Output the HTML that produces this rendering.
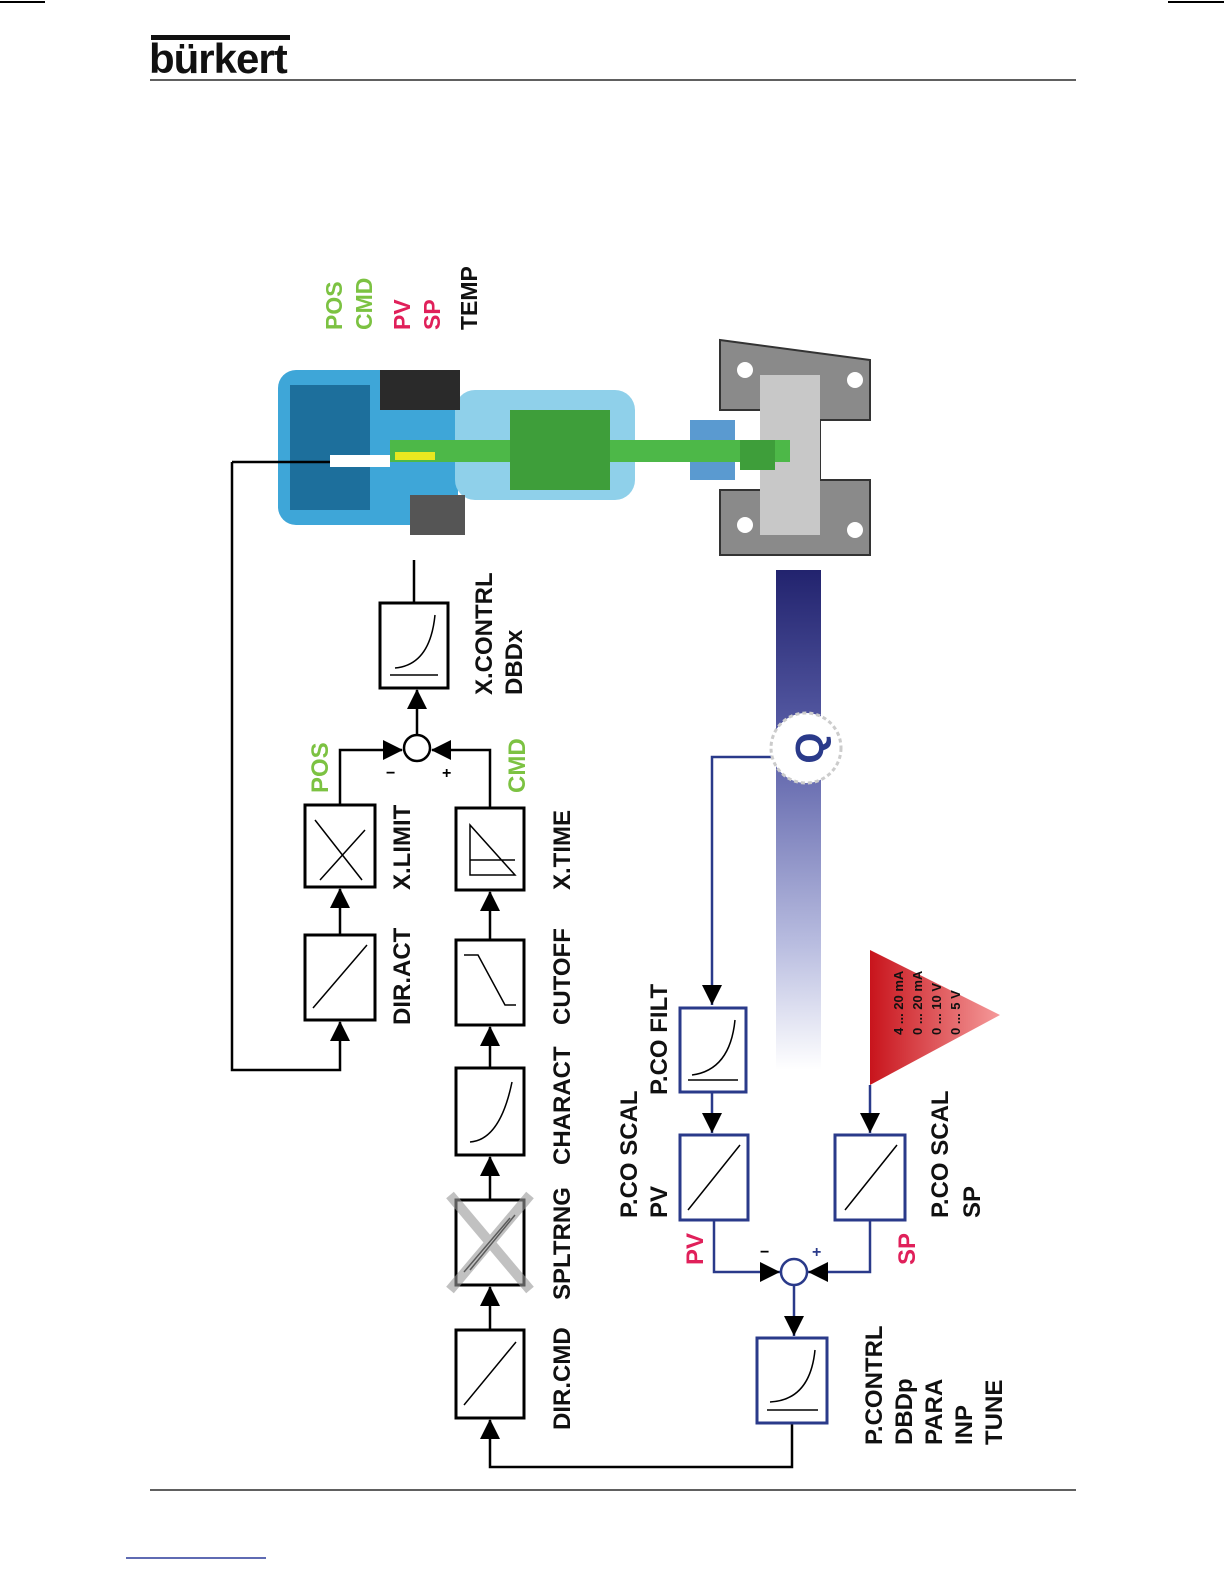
<!DOCTYPE html>
<html><head><meta charset="utf-8"><style>
html,body{margin:0;padding:0;background:#fff;}
svg{display:block;}
text{font-family:"Liberation Sans",Arial,sans-serif;font-weight:bold;}
</style></head><body>
<svg width="1224" height="1584" viewBox="0 0 1224 1584" xmlns="http://www.w3.org/2000/svg">
<defs>
<linearGradient id="bar" x1="0" y1="0" x2="0" y2="1">
<stop offset="0" stop-color="#22236e"/><stop offset="0.35" stop-color="#5a5fa8"/><stop offset="0.75" stop-color="#b9bde0"/><stop offset="1" stop-color="#ffffff"/>
</linearGradient>
<linearGradient id="tri" x1="0" y1="0" x2="1" y2="0">
<stop offset="0" stop-color="#c8141c"/><stop offset="1" stop-color="#f59a9a"/>
</linearGradient>
<marker id="ak" markerWidth="10" markerHeight="10" refX="9" refY="5" orient="auto" markerUnits="userSpaceOnUse"><path d="M0,0 L10,5 L0,10 z" fill="#000"/></marker>
<marker id="a" viewBox="0 0 20 20" markerWidth="20" markerHeight="20" refX="19" refY="10" orient="auto" markerUnits="userSpaceOnUse"><path d="M0,0 L20,10 L0,20 z" fill="#000"/></marker>
</defs>
<!-- page marks -->
<line x1="0" y1="2" x2="45" y2="2" stroke="#000" stroke-width="2"/>
<line x1="1168" y1="2" x2="1224" y2="2" stroke="#000" stroke-width="2"/>
<rect x="151" y="35" width="139" height="5" fill="#111"/>
<text x="149" y="73" font-size="42" fill="#111" letter-spacing="-1">bürkert</text>
<line x1="150" y1="80" x2="1076" y2="80" stroke="#000" stroke-width="1.2"/>
<line x1="150" y1="1490" x2="1076" y2="1490" stroke="#000" stroke-width="1.2"/>
<line x1="126" y1="1558" x2="266" y2="1558" stroke="#2a3a9a" stroke-width="1.5"/>

<!-- blue bar -->
<rect x="776" y="570" width="45" height="500" fill="url(#bar)"/>
<!-- valve body -->
<path d="M720,340 L870,360 L870,420 L820,420 L820,480 L870,480 L870,555 L720,555 L720,490 L770,490 L770,410 L720,410 Z" fill="#8a8a8a" stroke="#333" stroke-width="2"/>
<rect x="760" y="375" width="60" height="160" fill="#c8c8c8"/>
<circle cx="745" cy="370" r="8" fill="#fff"/><circle cx="745" cy="525" r="8" fill="#fff"/><circle cx="855" cy="380" r="8" fill="#fff"/><circle cx="855" cy="530" r="8" fill="#fff"/>
<rect x="690" y="420" width="45" height="60" fill="#5a9ad0"/>
<!-- actuator -->
<rect x="278" y="370" width="180" height="155" rx="18" fill="#3ea6d8"/>
<rect x="290" y="385" width="80" height="125" fill="#1d6f9c"/>
<rect x="455" y="390" width="180" height="110" rx="20" fill="#8fd0ea"/>
<rect x="380" y="370" width="80" height="40" fill="#2a2a2a"/>
<rect x="410" y="495" width="55" height="40" fill="#555"/>
<rect x="330" y="455" width="60" height="12" fill="#fff"/>
<rect x="390" y="440" width="400" height="22" fill="#4db848"/>
<rect x="510" y="410" width="100" height="80" fill="#3e9e3a"/>
<rect x="740" y="440" width="35" height="30" fill="#3e9e3a"/>
<rect x="395" y="452" width="40" height="8" fill="#e8e820"/>

<!-- top right labels -->
<g font-size="23">
<text transform="translate(342,330) rotate(-90)" fill="#7cc242">POS</text>
<text transform="translate(372,330) rotate(-90)" fill="#7cc242">CMD</text>
<text transform="translate(410,330) rotate(-90)" fill="#e0205a">PV</text>
<text transform="translate(440,330) rotate(-90)" fill="#e0205a">SP</text>
<text transform="translate(477,330) rotate(-90)" fill="#111">TEMP</text>
</g>

<!-- black boxes -->
<g fill="#fff" stroke="#000" stroke-width="3">
<rect x="305" y="935" width="70" height="85"/>
<rect x="305" y="805" width="70" height="82"/>
<rect x="456" y="1330" width="68" height="88"/>
<rect x="456" y="1200" width="68" height="85"/>
<rect x="456" y="1068" width="68" height="87"/>
<rect x="456" y="940" width="68" height="85"/>
<rect x="456" y="808" width="68" height="82"/>
<rect x="380" y="603" width="68" height="85"/>
</g>
<!-- inner graphics -->
<g fill="none" stroke="#000" stroke-width="1.5">
<path d="M313,1008 L367,945"/><path d="M315,820 L362,880 M320,880 L365,830"/>
<path d="M464,1405 L516,1342"/><path d="M470,1270 L515,1215 M464,1272 L510,1218"/>
<path d="M470,1142 Q500,1140 512,1082"/><path d="M464,955 L478,955 L505,1005 L516,1005"/>
<path d="M470,875 L515,875 L470,825 Z M470,860 L515,860"/>
<path d="M390,675 L438,675 M395,668 Q430,665 435,615"/>
</g>
<!-- splitrange X -->
<path d="M450,1195 L530,1290 M530,1195 L450,1290" stroke="#999" stroke-width="10" opacity="0.6"/>

<!-- black connectors -->
<g fill="none" stroke="#000" stroke-width="2.5">
<path d="M232,462 L232,1070 L340,1070 L340,1022" marker-end="url(#a)"/>
<line x1="232" y1="462" x2="330" y2="462"/>
<line x1="340" y1="935" x2="340" y2="889" marker-end="url(#a)"/>
<path d="M340,805 L340,750 L402,750" marker-end="url(#a)"/>
<path d="M490,808 L490,750 L432,750" marker-end="url(#a)"/>
<line x1="417" y1="735" x2="417" y2="690" marker-end="url(#a)"/>
<line x1="414" y1="603" x2="414" y2="560"/>
<line x1="490" y1="1330" x2="490" y2="1287" marker-end="url(#a)"/>
<line x1="490" y1="1200" x2="490" y2="1157" marker-end="url(#a)"/>
<line x1="490" y1="1068" x2="490" y2="1027" marker-end="url(#a)"/>
<line x1="490" y1="940" x2="490" y2="892" marker-end="url(#a)"/>
<path d="M792,1423 L792,1467 L490,1467 L490,1420" marker-end="url(#a)"/>
</g>
<circle cx="417" cy="748" r="13" fill="#fff" stroke="#000" stroke-width="2.5"/>
<text x="386" y="778" font-size="16">−</text><text x="442" y="778" font-size="16">+</text>

<!-- blue boxes -->
<g fill="#fff" stroke="#2a3a8a" stroke-width="3">
<rect x="757" y="1338" width="70" height="85"/>
<rect x="680" y="1135" width="68" height="85"/>
<rect x="680" y="1008" width="66" height="84"/>
<rect x="835" y="1135" width="70" height="85"/>
</g>
<g fill="none" stroke="#000" stroke-width="1.5">
<path d="M767,1410 L818,1410 M770,1402 Q810,1400 815,1350"/>
<path d="M688,1210 L740,1145"/>
<path d="M688,1080 L738,1080 M692,1075 Q730,1070 735,1020"/>
<path d="M845,1210 L897,1145"/>
</g>
<!-- blue connectors -->
<g fill="none" stroke="#2a3a8a" stroke-width="2.5">
<path d="M775,757 L712,757 L712,1005"/>
<line x1="712" y1="1092" x2="712" y2="1133"/>
<path d="M714,1220 L714,1272 L780,1272"/>
<path d="M870,1085 L870,1133"/>
<path d="M870,1220 L870,1272 L808,1272"/>
<line x1="794" y1="1285" x2="794" y2="1336"/>
</g>
<g fill="#000">
<path d="M702,985 L722,985 L712,1005 Z"/><path d="M702,1113 L722,1113 L712,1133 Z"/>
<path d="M860,1113 L880,1113 L870,1133 Z"/><path d="M784,1316 L804,1316 L794,1336 Z"/>
<path d="M760,1262 L780,1272 L760,1282 Z"/><path d="M828,1262 L808,1272 L828,1282 Z"/>
</g>
<circle cx="794" cy="1272" r="13" fill="#fff" stroke="#2a3a8a" stroke-width="2.5"/>
<text x="760" y="1257" font-size="16">−</text><text x="812" y="1257" font-size="16" fill="#2a3a8a">+</text>

<!-- Q -->
<circle cx="806" cy="748" r="35" fill="#fff" stroke="#ccc" stroke-width="3" stroke-dasharray="4 3"/>
<text transform="translate(823,748) rotate(-90)" font-size="40" fill="#2a3a8a" text-anchor="middle">Q</text>

<!-- red triangle -->
<path d="M870,950 L1000,1015 L870,1085 Z" fill="url(#tri)"/>
<g font-size="13" fill="#111">
<text transform="translate(903,1035) rotate(-90)">4 ... 20 mA</text>
<text transform="translate(922,1035) rotate(-90)">0 ... 20 mA</text>
<text transform="translate(941,1035) rotate(-90)">0 ... 10 V</text>
<text transform="translate(960,1035) rotate(-90)">0 ...   5 V</text>
</g>

<!-- labels -->
<g font-size="24" fill="#111">
<text transform="translate(410,1025) rotate(-90)">DIR.ACT</text>
<text transform="translate(410,890) rotate(-90)">X.LIMIT</text>
<text transform="translate(570,1430) rotate(-90)">DIR.CMD</text>
<text transform="translate(570,1300) rotate(-90)">SPLTRNG</text>
<text transform="translate(570,1165) rotate(-90)">CHARACT</text>
<text transform="translate(570,1025) rotate(-90)">CUTOFF</text>
<text transform="translate(570,890) rotate(-90)">X.TIME</text>
<text transform="translate(492,695) rotate(-90)">X.CONTRL</text>
<text transform="translate(522,695) rotate(-90)">DBDx</text>
<text transform="translate(882,1445) rotate(-90)">P.CONTRL</text>
<text transform="translate(912,1445) rotate(-90)">DBDp</text>
<text transform="translate(942,1445) rotate(-90)">PARA</text>
<text transform="translate(972,1445) rotate(-90)">INP</text>
<text transform="translate(1002,1445) rotate(-90)">TUNE</text>
<text transform="translate(637,1218) rotate(-90)">P.CO SCAL</text>
<text transform="translate(667,1218) rotate(-90)">PV</text>
<text transform="translate(667,1095) rotate(-90)">P.CO FILT</text>
<text transform="translate(948,1218) rotate(-90)">P.CO SCAL</text>
<text transform="translate(980,1218) rotate(-90)">SP</text>
<text transform="translate(328,793) rotate(-90)" fill="#7cc242">POS</text>
<text transform="translate(525,793) rotate(-90)" fill="#7cc242">CMD</text>
<text transform="translate(703,1265) rotate(-90)" fill="#e0205a">PV</text>
<text transform="translate(915,1265) rotate(-90)" fill="#e0205a">SP</text>
</g>
</svg>
</body></html>
